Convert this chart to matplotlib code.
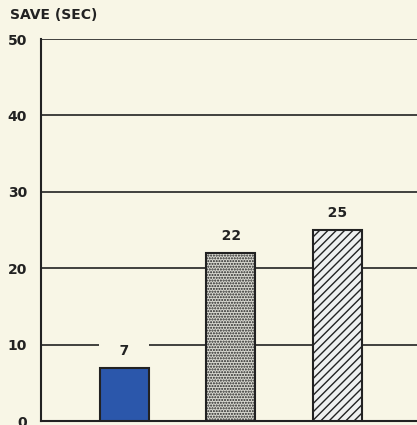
import matplotlib.pyplot as plt

plt.rcParams["hatch.linewidth"] = 1.0

categories = ["A", "B", "C"]
save_sec = [7, 22, 25]
y_ticks = [0, 10, 20, 30, 40, 50]

bg = "#f8f6e6"

fig = plt.figure(figsize=(4.17, 4.25), dpi=100, facecolor=bg)
ax = fig.add_axes([0.098, 0.0094, 0.902, 0.8988], facecolor=bg)

styles = [
    dict(color="#2b57ab", hatch=None),
    dict(color="#d8d8d0", hatch="......"),
    dict(color="#eef0f0", hatch="////"),
]
for i, v in enumerate(save_sec):
    ax.bar(i, v, width=0.46, color=styles[i]["color"], hatch=styles[i]["hatch"],
           edgecolor="#222222", linewidth=1.5, zorder=3)
    # padded label so the gridline breaks around it
    ax.text(i, v + 1.3, "   " + str(v) + "   ", ha="center", va="bottom",
            fontsize=10, fontweight="bold", color="#222222", zorder=4,
            bbox=dict(facecolor=bg, edgecolor="none", pad=4))

ax.set_ylim(0, 50)
ax.set_xlim(-0.784, 2.746)
ax.set_yticks(y_ticks)
ax.set_yticklabels([str(t) for t in y_ticks], fontsize=10, fontweight="bold", color="#222222")
ax.set_xticks([])
ax.tick_params(axis="y", length=0, pad=10)
ax.yaxis.grid(True, color="#222222", linewidth=1.2, zorder=0)
for s in ["top", "right"]:
    ax.spines[s].set_visible(False)
ax.spines["left"].set_linewidth(1.5)
ax.spines["bottom"].set_linewidth(1.5)
ax.spines["left"].set_color("#222222")
ax.spines["bottom"].set_color("#222222")

fig.text(0.024, 0.965, "SAVE (SEC)", fontsize=10, fontweight="bold",
         color="#222222", ha="left", va="center")

fig.savefig("out.png", dpi=100, facecolor=bg)
